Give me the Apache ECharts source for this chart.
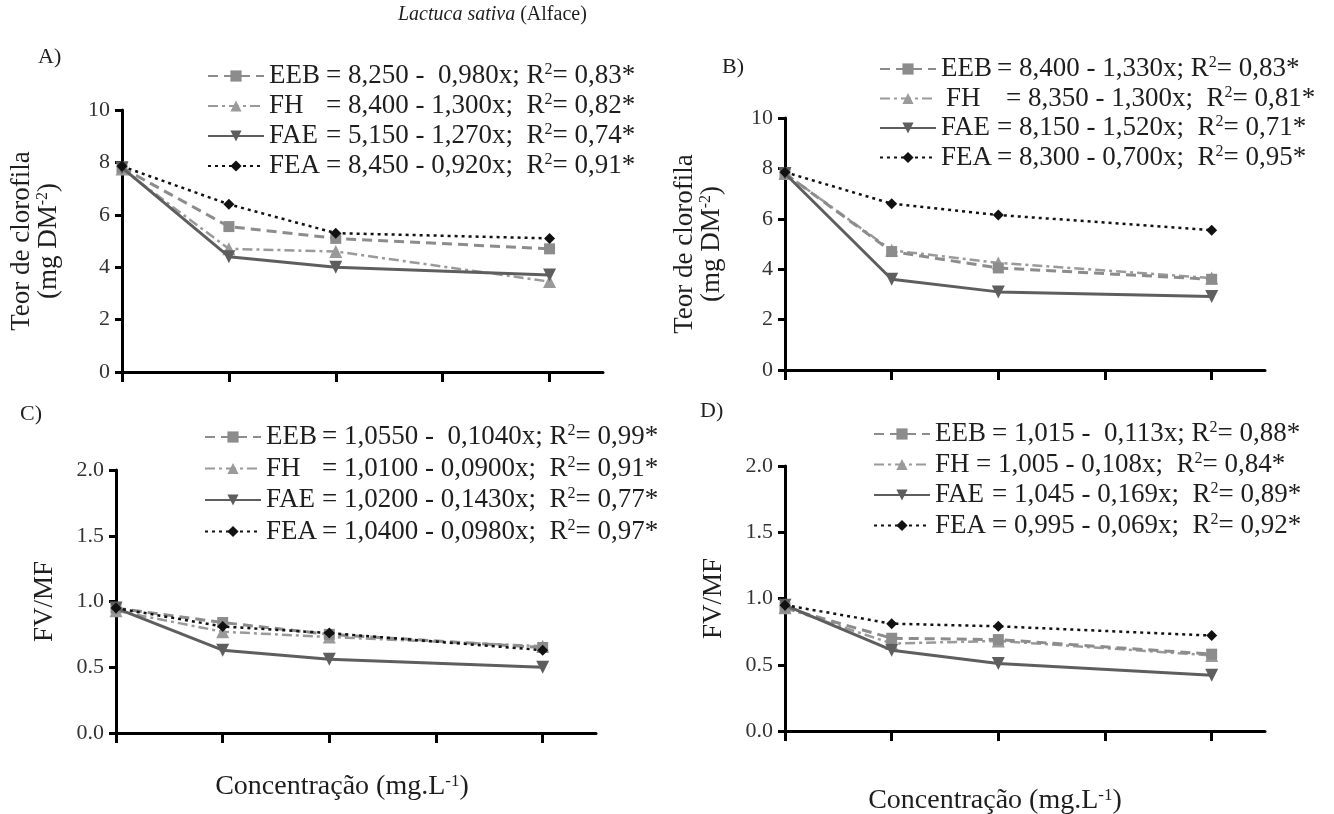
<!DOCTYPE html>
<html>
<head>
<meta charset="utf-8">
<title>Lactuca sativa (Alface)</title>
<script src="https://cdn.jsdelivr.net/npm/echarts@6/dist/echarts.min.js"></script>
<style>
  html, body { margin: 0; padding: 0; background: #fff; }
  #chart { width: 1334px; height: 814px; }
</style>
</head>
<body>
<div id="chart"></div>
<script>
// Concentrations tested (x positions of the measured points) and the x tick positions
const concentracoes = [0, 1, 2, 4];
const ticksX = [0, 1, 2, 3, 4];
const tratamentos = ['EEB', 'FH', 'FAE', 'FEA'];

// A) chlorophyll content, first assay
const aEEB = [7.80, 5.55, 5.10, 4.70];
const aFH  = [7.75, 4.70, 4.60, 3.45];
const aFAE = [7.80, 4.40, 4.00, 3.70];
const aFEA = [7.85, 6.40, 5.30, 5.10];

// B) chlorophyll content, second assay
const bEEB = [7.80, 4.70, 4.05, 3.60];
const bFH  = [7.80, 4.75, 4.25, 3.65];
const bFAE = [7.80, 3.60, 3.10, 2.92];
const bFEA = [7.85, 6.60, 6.15, 5.55];

// C) FV/MF, first assay
const cEEB = [0.95, 0.84, 0.75, 0.65];
const cFH  = [0.93, 0.77, 0.73, 0.66];
const cFAE = [0.95, 0.63, 0.56, 0.50];
const cFEA = [0.95, 0.81, 0.76, 0.63];

// D) FV/MF, second assay
const dEEB = [0.93, 0.70, 0.69, 0.58];
const dFH  = [0.93, 0.66, 0.68, 0.57];
const dFAE = [0.95, 0.61, 0.51, 0.42];
const dFEA = [0.95, 0.81, 0.79, 0.72];

// Regression equations and R² shown next to each legend entry
const equacoesA = ['= 8,250 -  0,980x; R', '= 8,400 - 1,300x;  R', '= 5,150 - 1,270x;  R', '= 8,450 - 0,920x;  R'];
const r2A = ['= 0,83*', '= 0,82*', '= 0,74*', '= 0,91*'];
const equacoesB = ['= 8,400 - 1,330x; R', '= 8,350 - 1,300x;  R', '= 8,150 - 1,520x;  R', '= 8,300 - 0,700x;  R'];
const r2B = ['= 0,83*', '= 0,81*', '= 0,71*', '= 0,95*'];
const equacoesC = ['= 1,0550 -  0,1040x; R', '= 1,0100 - 0,0900x;  R', '= 1,0200 - 0,1430x;  R', '= 1,0400 - 0,0980x;  R'];
const r2C = ['= 0,99*', '= 0,91*', '= 0,77*', '= 0,97*'];
const equacoesD = ['= 1,015 -  0,113x; R', '= 1,005 - 0,108x;  R', '= 1,045 - 0,169x;  R', '= 0,995 - 0,069x;  R'];
const r2D = ['= 0,88*', '= 0,84*', '= 0,89*', '= 0,92*'];

const FONTE = "'Liberation Serif', 'Times New Roman', serif";
const COR_TEXTO = '#1e1e1e';
const TAM_TEXTO = 27;

// Visual style of each treatment
const estilos = {
  EEB: { color: '#8c8c8c', symbol: 'rect', size: 11, dash: [10, 6], width: 3, z: 3 },
  FH:  { color: '#9a9a9a', symbol: 'triangle', size: 13, dash: [10, 4, 3, 4], width: 2.5, z: 2 },
  FAE: { color: '#5e5e5e', symbol: 'path://M0,0 L10,0 L5,9 Z', size: 13, dash: 'solid', width: 3, z: 4 },
  FEA: { color: '#111111', symbol: 'diamond', size: 11, dash: [3, 4], width: 2.5, z: 5 }
};

const paineis = [
  {
    grid: { left: 122, top: 110, width: 481, height: 262 },
    yMax: 10, yInt: 2, decimais: 0, nomeY: 'clorofila', nomeX: false,
    valores: [aEEB, aFH, aFAE, aFEA], eq: equacoesA, r2: r2A,
    larguraNome: [57, 57, 57, 57], recuoNome: [0, 0, 0, 0],
    legenda: { left: 207, top: 62, gap: 2.5 }
  },
  {
    grid: { left: 785, top: 118, width: 480, height: 252 },
    yMax: 10, yInt: 2, decimais: 0, nomeY: 'clorofila', nomeX: false,
    valores: [bEEB, bFH, bFAE, bFEA], eq: equacoesB, r2: r2B,
    larguraNome: [56, 60, 56, 56], recuoNome: [0, 5, 0, 0],
    legenda: { left: 879, top: 55, gap: 2 }
  },
  {
    grid: { left: 116, top: 470, width: 480, height: 263 },
    yMax: 2, yInt: 0.5, decimais: 1, nomeY: 'fvmf', nomeX: true, xNameGap: 40, xNamePad: 28,
    valores: [cEEB, cFH, cFAE, cFEA], eq: equacoesC, r2: r2C,
    larguraNome: [56, 56, 56, 56], recuoNome: [0, 0, 0, 0],
    legenda: { left: 204, top: 423, gap: 4 }
  },
  {
    grid: { left: 785, top: 466, width: 480, height: 265 },
    yMax: 2, yInt: 0.5, decimais: 1, nomeY: 'fvmf', nomeX: true, xNameGap: 56, xNamePad: 60,
    valores: [dEEB, dFH, dFAE, dFEA], eq: equacoesD, r2: r2D,
    larguraNome: [57, 41, 57, 57], recuoNome: [0, 0, 0, 0],
    legenda: { left: 873, top: 420, gap: 3 }
  }
];

const letras = [
  { text: 'A)', left: 38, top: 46 },
  { text: 'B)', left: 722, top: 56 },
  { text: 'C)', left: 20, top: 403 },
  { text: 'D)', left: 700, top: 400 }
];

const richBase = {
  a: { fontFamily: FONTE, fontSize: TAM_TEXTO, lineHeight: 27, color: COR_TEXTO },
  s: { fontFamily: FONTE, fontSize: 16, lineHeight: 16, verticalAlign: 'top', color: COR_TEXTO }
};
const richEixoX = {
  a: { fontFamily: FONTE, fontSize: 28, lineHeight: 28, color: COR_TEXTO },
  s: { fontFamily: FONTE, fontSize: 17, lineHeight: 17, verticalAlign: 'top', color: COR_TEXTO }
};

const grids = [], xAxes = [], yAxes = [], series = [], legends = [];

paineis.forEach((p, pi) => {
  grids.push(Object.assign({ containLabel: false, outerBoundsMode: 'none' }, p.grid));

  xAxes.push({
    type: 'value', gridIndex: pi, min: 0, max: 4.5,
    axisLine: { show: true, onZero: false, lineStyle: { color: '#000', width: 3 } },
    axisTick: { show: true, length: 10, customValues: ticksX, lineStyle: { color: '#000', width: 3 } },
    axisLabel: { show: false },
    splitLine: { show: false },
    name: p.nomeX ? '{a|Concentração (mg.L}{s|-1}{a|)}' : '',
    nameLocation: 'middle',
    nameGap: p.xNameGap || 40,
    nameTextStyle: {
      padding: [0, p.xNamePad || 0, 0, 0],
      rich: richEixoX
    }
  });

  const nomeY = p.nomeY === 'clorofila'
    ? '{a|Teor de clorofila}\n{a|(mg DM}{s|-2}{a|)}'
    : '{a|FV/MF}';

  yAxes.push({
    type: 'value', gridIndex: pi, min: 0, max: p.yMax, interval: p.yInt,
    axisLine: { show: true, lineStyle: { color: '#000', width: 3 } },
    axisTick: { show: true, length: 7, lineStyle: { color: '#000', width: 3 } },
    axisLabel: {
      show: true, margin: 12, fontFamily: FONTE, fontSize: 22, color: '#333',
      formatter: v => v.toFixed(p.decimais)
    },
    splitLine: { show: false },
    name: nomeY,
    nameLocation: 'middle',
    nameRotate: 90,
    nameGap: p.nomeY === 'clorofila' ? 60 : 58,
    nameTextStyle: { rich: richBase }
  });

  tratamentos.forEach((t, ti) => {
    const e = estilos[t];
    series.push({
      type: 'line', name: t, xAxisIndex: pi, yAxisIndex: pi,
      data: concentracoes.map((x, i) => [x, p.valores[ti][i]]),
      symbol: e.symbol, symbolSize: e.size, showSymbol: true,
      lineStyle: { color: e.color, width: e.width, type: e.dash },
      itemStyle: { color: e.color },
      z: e.z, silent: true
    });
  });

  const rich = {
    t: { fontFamily: FONTE, fontSize: TAM_TEXTO, lineHeight: 28, color: COR_TEXTO },
    s: { fontFamily: FONTE, fontSize: 16, lineHeight: 16, verticalAlign: 'top', color: COR_TEXTO }
  };
  p.larguraNome.forEach((w, i) => {
    rich['n' + i] = {
      fontFamily: FONTE, fontSize: TAM_TEXTO, lineHeight: 28, color: COR_TEXTO,
      width: w, padding: [0, 0, 0, p.recuoNome[i]]
    };
  });

  legends.push({
    left: p.legenda.left, top: p.legenda.top, padding: 0,
    orient: 'vertical', itemWidth: 56, itemHeight: 14, itemGap: p.legenda.gap,
    selectedMode: false,
    data: tratamentos,
    formatter: nome => {
      const i = tratamentos.indexOf(nome);
      return '{n' + i + '|' + nome + '}{t|' + p.eq[i] + '}{s|2}{t|' + p.r2[i] + '}';
    },
    textStyle: { fontFamily: FONTE, fontSize: TAM_TEXTO, color: COR_TEXTO, rich: rich }
  });
});

const titulos = [{
  text: '{i|Lactuca sativa} {r|(Alface)}',
  left: 398, top: 5, padding: 0,
  textStyle: {
    fontFamily: FONTE, fontSize: 20, fontWeight: 'normal', color: COR_TEXTO,
    rich: {
      i: { fontFamily: FONTE, fontSize: 20, fontStyle: 'italic', color: COR_TEXTO },
      r: { fontFamily: FONTE, fontSize: 20, color: COR_TEXTO }
    }
  }
}].concat(letras.map(l => ({
  text: l.text, left: l.left, top: l.top, padding: 0,
  textStyle: { fontFamily: FONTE, fontSize: 22, fontWeight: 'normal', color: COR_TEXTO }
})));

const chart = echarts.init(document.getElementById('chart'), null, { renderer: 'canvas' });
chart.setOption({
  animation: false,
  backgroundColor: '#ffffff',
  title: titulos,
  grid: grids,
  xAxis: xAxes,
  yAxis: yAxes,
  legend: legends,
  series: series
});
</script>
</body>
</html>
